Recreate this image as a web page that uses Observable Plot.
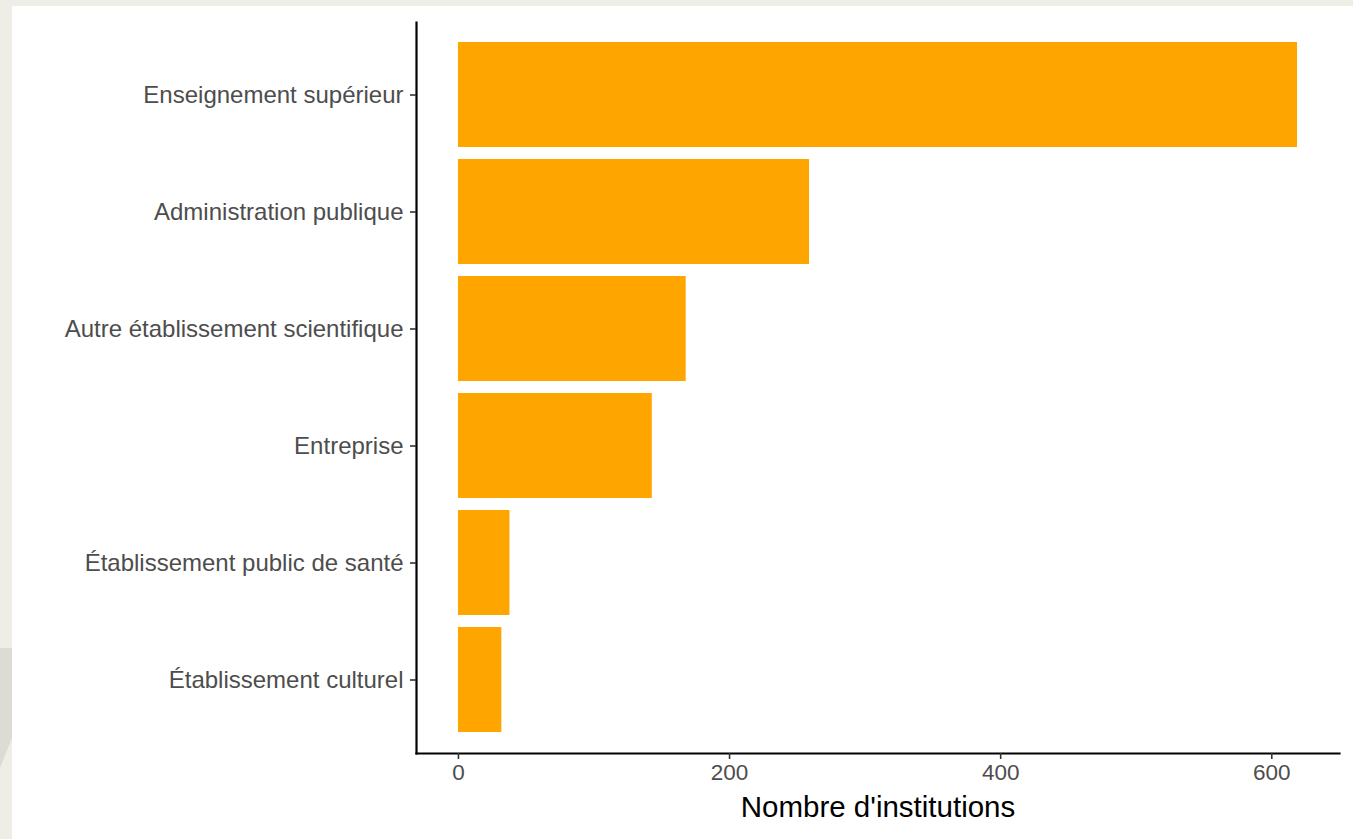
<!DOCTYPE html>
<html>
<head>
<meta charset="utf-8">
<script src="https://cdn.jsdelivr.net/npm/d3@7"></script>
<script src="https://cdn.jsdelivr.net/npm/@observablehq/plot@0.6"></script>
<style>
  html, body { margin: 0; padding: 0; }
  body { width: 1353px; height: 839px; background: #efeee6; position: relative; overflow: hidden; }
  #shade { position: absolute; left: 0; top: 648px; width: 12px; height: 120px; background: #dddcd4;
           clip-path: polygon(0 0, 100% 0, 100% 75%, 0 100%); }
  #panel { position: absolute; left: 12px; top: 6px; right: 0; bottom: 0; background: #ffffff; }
  #chart { position: absolute; left: 0; top: 0; }
  #chart svg { background: transparent; }
</style>
</head>
<body>
<div id="shade"></div>
<div id="panel"></div>
<div id="chart"></div>
<script>
const categories = [
  "Enseignement supérieur",
  "Administration publique",
  "Autre établissement scientifique",
  "Entreprise",
  "Établissement public de santé",
  "Établissement culturel"
];
const counts = [619, 259, 168, 143, 38, 32];
const xTicks = [0, 200, 400, 600];
const xLabel = "Nombre d'institutions";

const data = categories.map((c, i) => ({category: c, n: counts[i]}));
const maxN = d3.max(counts);
const xDomain = [-0.05 * maxN, 1.05 * maxN];

const font = "'Liberation Sans', Arial, Helvetica, sans-serif";

const chart = Plot.plot({
  width: 1353,
  height: 839,
  marginTop: 22,
  marginBottom: 86,
  marginLeft: 416,
  marginRight: 14,
  style: {fontFamily: font, background: "transparent", overflow: "visible"},
  x: {domain: xDomain, ticks: xTicks},
  y: {domain: categories, paddingInner: 0.1, paddingOuter: 0.15},
  marks: [
    Plot.barX(data, {x: "n", y: "category", fill: "#FFA500"}),
    Plot.frame({anchor: "left", stroke: "#000", strokeWidth: 2.2}),
    Plot.frame({anchor: "bottom", stroke: "#000", strokeWidth: 2.2}),
    Plot.axisY({
      tickSize: 6, tickPadding: 7, fontSize: 24, label: null,
      stroke: "#333", strokeWidth: 1.6, color: "#4d4d4d"
    }),
    Plot.axisX({
      ticks: xTicks, tickSize: 6, tickPadding: 5, fontSize: 22.5,
      stroke: "#333", strokeWidth: 1.6, color: "#4d4d4d",
      label: null
    }),
    Plot.text([xLabel], {
      frameAnchor: "bottom", dy: 54, fontSize: 29.5, fill: "#000",
      lineAnchor: "middle"
    })
  ]
});
document.getElementById("chart").appendChild(chart);
</script>
</body>
</html>
